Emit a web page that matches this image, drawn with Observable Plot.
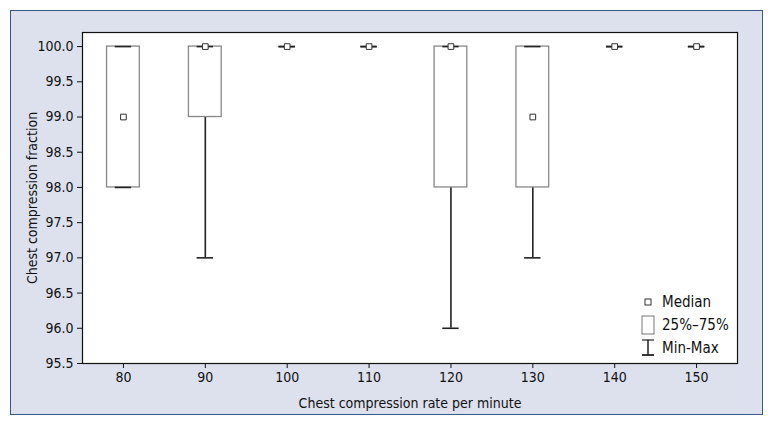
<!DOCTYPE html>
<html><head><meta charset="utf-8">
<script src="https://cdn.jsdelivr.net/npm/d3@7"></script>
<script src="https://cdn.jsdelivr.net/npm/@observablehq/plot@0.6"></script>
<style>
html,body{margin:0;padding:0;background:#fff;width:775px;height:427px;overflow:hidden;}
#frame{position:absolute;left:10px;top:10px;width:751px;height:403px;background:#dde1ee;border:1.5px solid #3a5786;}
#chart{position:absolute;left:0;top:0;}
#legend{position:absolute;left:0;top:0;}
svg{font-family:"DejaVu Sans Condensed","Liberation Sans Narrow",sans-serif;}
</style></head>
<body>
<div id="frame"></div>
<div id="chart"></div>
<script>
const rates   = [80, 90, 100, 110, 120, 130, 140, 150];
const q1      = [98, 99, 100, 100, 98, 98, 100, 100];
const q3      = [100, 100, 100, 100, 100, 100, 100, 100];
const medians = [99, 100, 100, 100, 100, 99, 100, 100];
const mins    = [98, 97, 100, 100, 96, 97, 100, 100];
const maxs    = [100, 100, 100, 100, 100, 100, 100, 100];
const yTicks  = [95.5, 96, 96.5, 97, 97.5, 98, 98.5, 99, 99.5, 100];
const legendLabels = ["Median", "25%\u201375%", "Min-Max"];

const data = rates.map((r, i) => ({rate: r, q1: q1[i], q3: q3[i], med: medians[i], min: mins[i], max: maxs[i]}));
const boxes = data.filter(d => d.q3 > d.q1);
const whiskers = data.filter(d => d.min < d.q1);

const plot = Plot.plot({
  width: 775, height: 427,
  marginLeft: 82, marginRight: 38, marginTop: 32, marginBottom: 64,
  style: {background: "none", fontSize: "14px", fontFamily: "'DejaVu Sans Condensed','Liberation Sans Narrow',sans-serif", color: "#111"},
  x: {domain: [75, 155], ticks: rates, label: "Chest compression rate per minute", labelAnchor: "center", labelArrow: "none", labelOffset: 44, tickSize: 5},
  y: {domain: [95.5, 100.2], ticks: yTicks, tickFormat: d3.format(".1f"), label: "Chest compression fraction", labelAnchor: "center", labelArrow: "none", labelOffset: 55, tickSize: 5},
  marks: [
    Plot.frame({fill: "white", stroke: "#111", strokeWidth: 1.2}),
    Plot.ruleX(whiskers, {x: "rate", y1: "min", y2: "q1", stroke: "#222", strokeWidth: 1.6}),
    Plot.rect(boxes, {x1: d => d.rate - 2, x2: d => d.rate + 2, y1: "q1", y2: "q3", fill: "white", stroke: "#888", strokeWidth: 1.3}),
    Plot.ruleY(data, {y: "min", x1: d => d.rate - 1, x2: d => d.rate + 1, stroke: "#222", strokeWidth: 1.6}),
    Plot.ruleY(data, {y: "max", x1: d => d.rate - 1, x2: d => d.rate + 1, stroke: "#222", strokeWidth: 1.6}),
    Plot.dot(data, {x: "rate", y: "med", symbol: "square", r: 3.2, fill: "white", stroke: "#333", strokeWidth: 1})
  ]
});
document.getElementById("chart").appendChild(plot);

// Legend overlay
const lg = d3.select("body").append("svg").attr("id", "legend").attr("width", 775).attr("height", 427)
  .style("position", "absolute").style("left", "0px").style("top", "0px");
const fx = 648, tx = 662;
const rowsY = [302, 325, 348];
lg.append("rect").attr("x", fx - 3).attr("y", rowsY[0] - 3).attr("width", 6).attr("height", 6).attr("fill", "white").attr("stroke", "#333");
lg.append("rect").attr("x", fx - 6).attr("y", rowsY[1] - 9).attr("width", 12).attr("height", 18).attr("fill", "white").attr("stroke", "#777");
lg.append("line").attr("x1", fx).attr("x2", fx).attr("y1", rowsY[2] - 8).attr("y2", rowsY[2] + 7).attr("stroke", "#222").attr("stroke-width", 1.5);
lg.append("line").attr("x1", fx - 6).attr("x2", fx + 6).attr("y1", rowsY[2] - 8).attr("y2", rowsY[2] - 8).attr("stroke", "#222").attr("stroke-width", 1.2);
lg.append("line").attr("x1", fx - 6).attr("x2", fx + 6).attr("y1", rowsY[2] + 7).attr("y2", rowsY[2] + 7).attr("stroke", "#222").attr("stroke-width", 1.8);
legendLabels.forEach((t, i) => {
  lg.append("text").attr("x", tx).attr("y", rowsY[i]).attr("dy", "0.35em").attr("font-size", 15).attr("fill", "#111").text(t);
});
</script>
</body></html>
